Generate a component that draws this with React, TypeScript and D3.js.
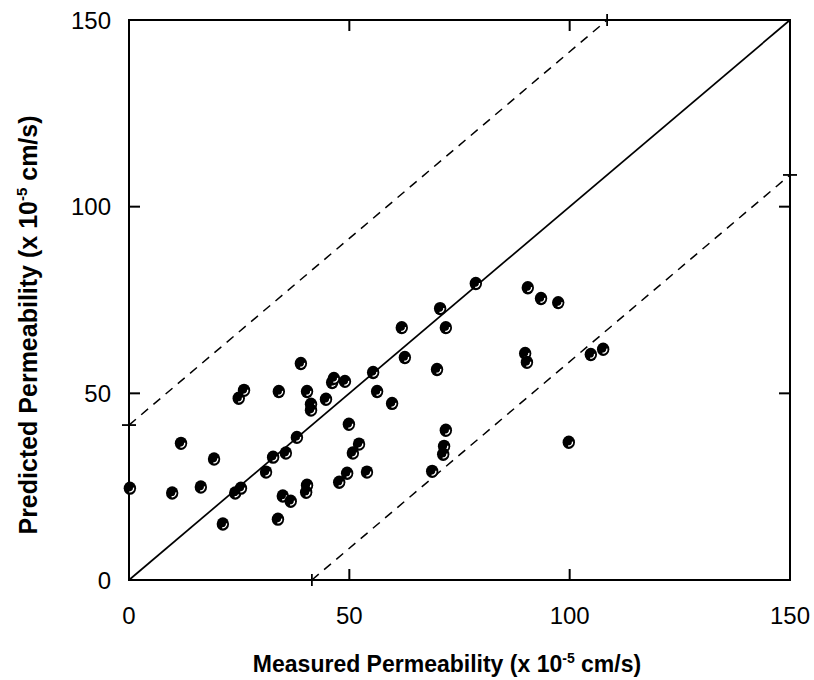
import React, { useRef, useEffect } from "react";
import { select, scaleLinear, line, arc } from "d3";

// measured vs predicted permeability (x 10^-5 cm/s)
const measured = [
  0.2, 9.8, 11.8, 16.3, 19.3, 21.3, 24.1, 25.4, 24.9, 26.1, 34.0, 31.1, 32.7, 35.6, 38.1,
  34.9, 36.7, 33.8, 61.9, 71.9, 62.6, 69.9, 55.4, 39.0, 40.4, 41.3, 41.3, 44.7, 46.1, 46.5,
  49.0, 56.3, 59.7, 49.9, 52.2, 50.8, 49.5, 47.7, 54.0, 40.4, 40.2, 71.9, 71.5, 71.3, 68.8,
  78.7, 90.5, 93.5, 97.4, 89.9, 90.3, 70.6, 99.8, 104.8, 107.6,
];
const predicted = [
  24.6, 23.3, 36.6, 24.9, 32.4, 15.0, 23.3, 24.6, 48.7, 50.8, 50.5, 28.9, 32.9, 34.0, 38.2,
  22.5, 21.1, 16.3, 67.6, 67.6, 59.6, 56.4, 55.6, 58.0, 50.5, 47.1, 45.5, 48.4, 52.9, 54.0,
  53.2, 50.5, 47.3, 41.7, 36.4, 34.0, 28.6, 26.2, 28.9, 25.4, 23.5, 40.1, 35.8, 33.7, 29.1,
  79.4, 78.3, 75.4, 74.3, 60.7, 58.3, 72.7, 36.9, 60.4, 61.8,
];
const tickValues = [0, 50, 100, 150];
const axisMax = 150;
const bandOffset = 41.5;

const W = 814;
const H = 680;
const margin = { left: 129, top: 20, right: 24, bottom: 100 };

function App() {
  const svgRef = useRef(null);

  useEffect(() => {
    const svg = select(svgRef.current);
    svg.selectAll("*").remove();

    const x = scaleLinear().domain([0, axisMax]).range([margin.left, W - margin.right]);
    const y = scaleLinear().domain([0, axisMax]).range([H - margin.bottom, margin.top]);
    const font = "'Liberation Sans', Arial, sans-serif";

    const pts = measured.map((m, i) => [m, predicted[i]]);
    const ln = line().x(d => x(d[0])).y(d => y(d[1]));

    // 1:1 line
    svg.append("path")
      .attr("d", ln([[0, 0], [axisMax, axisMax]]))
      .attr("stroke", "#000").attr("stroke-width", 1.7).attr("fill", "none");

    // +/- band
    const upper = [[0, bandOffset], [axisMax - bandOffset, axisMax]];
    const lower = [[bandOffset, 0], [axisMax, axisMax - bandOffset]];
    [upper, lower].forEach(seg => {
      svg.append("path")
        .attr("d", ln(seg))
        .attr("stroke", "#000").attr("stroke-width", 1.5)
        .attr("stroke-dasharray", "9,7").attr("fill", "none");
    });
    // little end markers where band meets the frame
    const endTicks = [
      { x1: x(0) - 7, x2: x(0) + 7, y1: y(bandOffset), y2: y(bandOffset) },
      { x1: x(axisMax - bandOffset), x2: x(axisMax - bandOffset), y1: y(axisMax) - 6, y2: y(axisMax) + 6 },
      { x1: x(bandOffset), x2: x(bandOffset), y1: y(0) - 6, y2: y(0) + 6 },
      { x1: x(axisMax) - 7, x2: x(axisMax) + 7, y1: y(axisMax - bandOffset), y2: y(axisMax - bandOffset) },
    ];
    svg.selectAll(".endtick").data(endTicks).join("line")
      .attr("class", "endtick")
      .attr("x1", d => d.x1).attr("x2", d => d.x2)
      .attr("y1", d => d.y1).attr("y2", d => d.y2)
      .attr("stroke", "#000").attr("stroke-width", 1.8);

    // frame
    svg.append("rect")
      .attr("x", x(0)).attr("y", y(axisMax))
      .attr("width", x(axisMax) - x(0)).attr("height", y(0) - y(axisMax))
      .attr("fill", "none").attr("stroke", "#000").attr("stroke-width", 2);

    // inward ticks on all four sides
    const inner = tickValues.filter(t => t > 0 && t < axisMax);
    const tl = 11;
    inner.forEach(t => {
      svg.append("line").attr("x1", x(t)).attr("x2", x(t)).attr("y1", y(0)).attr("y2", y(0) - tl)
        .attr("stroke", "#000").attr("stroke-width", 2);
      svg.append("line").attr("x1", x(t)).attr("x2", x(t)).attr("y1", y(axisMax)).attr("y2", y(axisMax) + tl)
        .attr("stroke", "#000").attr("stroke-width", 2);
      svg.append("line").attr("x1", x(0)).attr("x2", x(0) + tl).attr("y1", y(t)).attr("y2", y(t))
        .attr("stroke", "#000").attr("stroke-width", 2);
      svg.append("line").attr("x1", x(axisMax)).attr("x2", x(axisMax) - tl).attr("y1", y(t)).attr("y2", y(t))
        .attr("stroke", "#000").attr("stroke-width", 2);
    });

    // tick labels
    svg.selectAll(".xlab").data(tickValues).join("text")
      .attr("class", "xlab")
      .attr("x", d => x(d)).attr("y", y(0) + 44)
      .attr("text-anchor", "middle")
      .style("font-family", font).style("font-size", "24px")
      .text(d => d);
    svg.selectAll(".ylab").data(tickValues).join("text")
      .attr("class", "ylab")
      .attr("x", x(0) - 18).attr("y", d => y(d) + 8.5)
      .attr("text-anchor", "end")
      .style("font-family", font).style("font-size", "24px")
      .text(d => d);

    // points
    const dots = svg.selectAll(".pt").data(pts).join("g")
      .attr("class", "pt")
      .attr("transform", d => `translate(${x(d[0])},${y(d[1])})`);
    dots.append("ellipse").attr("rx", 6.2).attr("ry", 6.7).attr("fill", "#000");
    const hl = arc().innerRadius(3.1).outerRadius(4.4).startAngle(0.45 * Math.PI).endAngle(1.05 * Math.PI);
    dots.append("path").attr("d", hl()).attr("fill", "#fff");

    // axis titles
    const xt = svg.append("text")
      .attr("x", 447).attr("y", 672)
      .attr("text-anchor", "middle")
      .style("font-family", font).style("font-size", "23px").style("font-weight", "bold");
    xt.append("tspan").text("Measured Permeability (x 10");
    xt.append("tspan").attr("dy", -9).style("font-size", "14px").text("-5");
    xt.append("tspan").attr("dy", 9).text(" cm/s)");

    const yt = svg.append("text")
      .attr("transform", `translate(37,325) rotate(-90)`)
      .attr("text-anchor", "middle")
      .style("font-family", font).style("font-size", "25px").style("font-weight", "bold");
    yt.append("tspan").text("Predicted Permeability (x 10");
    yt.append("tspan").attr("dy", -10).style("font-size", "15px").text("-5");
    yt.append("tspan").attr("dy", 10).text(" cm/s)");
  }, []);

  return (
    <svg ref={svgRef} width={W} height={H}
      style={{ position: "absolute", left: 0, top: 0, background: "#fff" }} />
  );
}

export default App
